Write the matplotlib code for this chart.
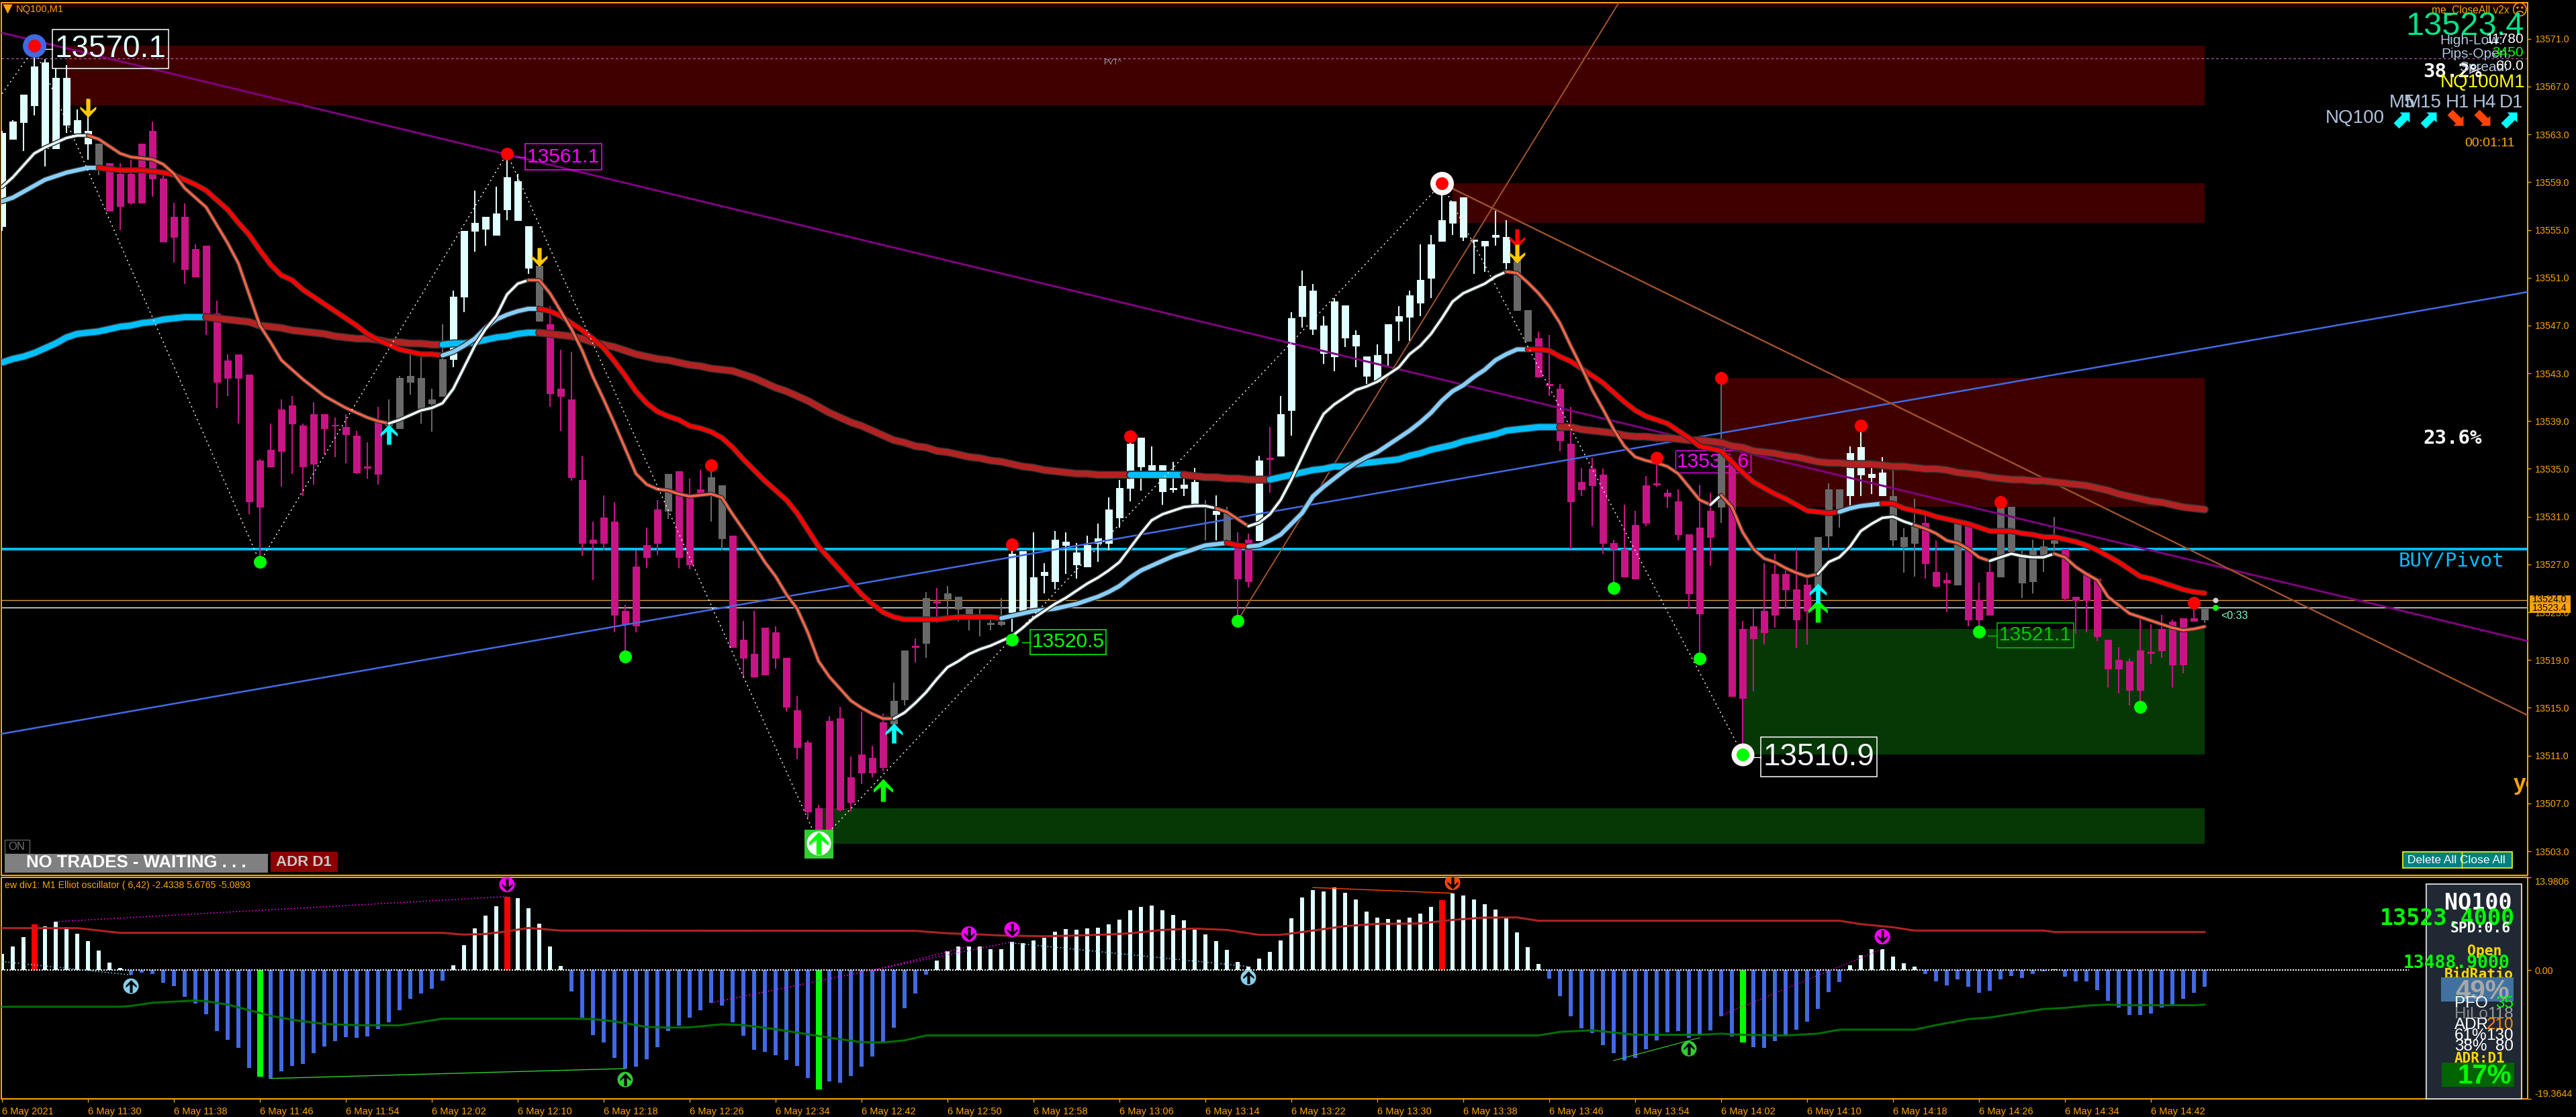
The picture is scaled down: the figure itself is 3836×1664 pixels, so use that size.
import numpy as np
import matplotlib
matplotlib.use("Agg")
import matplotlib.pyplot as plt
from matplotlib.patches import Rectangle
from matplotlib.markers import MarkerStyle
import matplotlib.patheffects as pe

W, H = 3836, 1664
BASE = 13500.0
plt.rcParams['font.family'] = ['Liberation Sans', 'DejaVu Sans']

# ---------- candles: points above BASE ----------
highs = [63.3,64.2,66.3,70.4,69.3,68.5,68.8,65.1,66.0,62.2,
60.6,60.6,60.9,62.2,64.1,59.9,57.3,57.2,53.8,53.7,
49.1,44.6,44.6,42.9,35.8,38.8,40.8,41.1,38.8,40.6,
39.6,39.3,39.6,38.2,37.2,40.2,40.8,42.8,44.6,44.5,
41.7,47.1,49.9,54.9,58.3,56.1,58.6,61.4,59.7,55.3,
52.0,48.6,45.0,44.8,36.1,30.6,32.8,32.2,23.6,28.2,
30.1,32.4,34.6,34.8,34.2,34.9,35.3,33.6,29.4,22.3,
23.1,21.7,21.8,19.2,16.0,12.3,6.9,14.3,15.1,10.9,
14.7,11.8,14.5,17.1,19.8,20.8,24.7,25.0,25.2,24.3,
23.3,23.3,22.8,24.2,28.7,28.1,29.7,27.1,29.8,29.7,
28.8,29.4,30.4,32.6,34.1,37.8,37.6,36.9,35.3,35.6,
34.2,35.1,32.4,32.8,31.8,29.7,29.6,36.1,38.5,41.1,
48.1,51.6,50.5,47.8,49.3,48.7,46.6,44.4,45.4,47.1,
48.6,49.9,53.8,54.6,58.8,57.4,57.7,54.2,54.1,56.6,
55.8,52.7,48.3,46.5,46.2,42.1,40.2,35.1,35.9,35.0,
29.1,32.0,31.5,34.4,35.5,33.3,33.3,29.5,33.7,33.0,
42.4,36.0,22.3,23.3,27.1,27.9,26.7,28.3,25.8,29.3,
33.8,33.3,36.9,38.5,35.1,36.0,35.0,30.0,32.5,31.2,
29.0,26.3,30.4,30.2,25.5,27.2,32.2,31.8,28.3,29.1,
29.0,31.0,28.3,24.3,26.3,25.8,20.7,20.1,19.1,22.8,
22.0,22.8,22.4,22.5,23.5,23.3]
body_high = [63.1,64.1,66.3,68.7,69.0,67.7,67.7,64.2,63.3,62.2,
60.6,59.7,59.7,62.2,63.3,59.3,56.1,56.1,53.4,53.7,
48.0,44.1,44.6,42.9,35.7,36.6,40.0,40.3,38.6,39.6,
39.6,38.7,38.5,37.8,35.2,39.0,38.8,42.6,42.8,42.6,
40.8,44.2,49.4,54.9,55.6,56.1,56.4,59.4,59.1,55.3,
52.0,47.1,41.7,40.8,34.1,29.1,30.9,30.6,23.1,26.8,
28.6,31.6,34.6,34.8,32.6,33.3,34.3,33.6,29.4,20.7,
19.5,21.7,21.3,19.2,14.8,12.1,6.6,13.9,14.1,9.2,
11.1,10.8,13.8,15.6,19.8,20.2,24.2,23.9,24.6,24.3,
23.3,22.8,22.1,22.2,27.9,28.1,25.9,26.4,29.1,28.9,
28.0,28.6,29.2,31.6,33.4,37.1,37.6,35.3,35.3,33.4,
33.7,33.9,31.9,31.5,31.4,28.7,29.1,35.7,35.9,39.6,
47.6,50.3,49.9,47.0,49.0,48.7,46.2,44.4,44.5,47.1,
47.8,49.5,50.8,53.8,55.8,57.4,57.7,54.2,54.1,54.6,
54.4,52.5,48.3,45.9,42.1,41.7,37.1,33.9,35.0,34.5,
28.8,28.3,30.3,33.6,33.8,33.0,32.3,29.5,30.1,31.5,
36.7,35.5,21.6,21.8,23.1,26.2,26.2,24.9,25.3,29.3,
33.3,33.3,36.3,36.8,34.6,34.7,32.7,29.3,30.2,30.5,
26.4,25.7,30.4,30.2,24.0,26.4,31.8,31.8,27.9,28.2,
28.5,29.0,28.3,24.3,26.3,25.8,20.7,19.0,18.9,19.8,
19.7,21.6,22.2,22.5,22.5,23.3]
body_low = [55.3,62.6,64.0,65.4,61.8,61.8,63.8,63.1,62.2,60.4,
56.6,57.0,57.3,57.3,59.3,54.0,54.4,51.7,51.1,48.0,
42.3,42.6,42.6,32.3,31.8,35.2,36.5,38.8,35.2,35.4,
38.4,38.6,37.9,34.7,35.1,34.6,38.6,38.4,42.3,40.1,
40.5,41.1,44.2,49.4,54.9,55.1,54.6,56.7,55.8,51.8,
47.4,41.3,41.1,34.3,28.8,28.8,28.8,22.8,22.0,21.9,
27.6,28.8,31.5,27.6,27.0,32.9,32.9,29.2,20.1,19.2,
17.6,17.8,19.2,15.1,11.7,6.3,4.2,4.7,6.5,7.1,
9.6,9.6,10.0,13.7,15.7,20.1,20.4,23.8,24.1,23.3,
22.8,22.5,22.0,22.0,23.0,23.1,23.2,26.1,25.6,28.6,
27.0,26.8,28.8,28.8,30.9,33.4,35.2,34.7,33.1,33.3,
33.4,32.1,31.8,31.2,29.0,25.8,25.6,29.0,35.8,36.1,
39.9,47.8,46.7,44.7,44.4,46.0,45.3,42.8,42.3,44.7,
47.4,47.7,48.9,51.0,54.1,55.6,54.4,54.1,53.7,54.4,
52.3,48.3,45.7,42.7,42.0,37.4,32.3,33.3,33.6,28.8,
28.3,26.0,25.8,30.5,33.7,32.7,29.5,24.6,22.9,29.3,
31.8,16.0,15.8,20.8,21.3,22.8,24.9,22.4,23.1,25.2,
29.4,31.6,32.8,34.5,34.3,32.8,29.1,28.5,28.8,27.1,
25.2,25.5,25.3,22.4,22.4,22.8,26.0,28.1,25.5,25.6,
27.8,28.8,24.2,24.0,24.0,21.0,18.3,18.3,16.5,16.5,
19.6,19.8,18.6,18.6,22.3,22.4]
lows = [54.9,62.6,61.6,64.6,60.3,61.8,63.1,62.7,60.9,59.6,
56.6,55.0,57.1,57.3,57.8,54.0,52.3,50.5,51.1,46.2,
40.1,41.1,38.8,31.2,27.2,35.2,33.5,34.6,32.7,33.7,
36.2,36.0,35.5,34.6,34.2,33.7,38.6,38.4,41.2,38.8,
38.1,41.1,43.5,48.1,53.2,53.7,54.6,55.8,55.8,51.3,
47.4,40.2,38.2,34.0,27.7,25.7,28.2,21.3,19.3,21.3,
26.7,27.8,30.8,26.7,26.6,32.9,30.6,28.2,20.1,17.5,
17.6,17.8,18.3,14.7,10.7,5.8,3.5,4.7,6.3,6.3,
8.6,9.2,9.7,13.3,15.2,18.8,19.2,22.1,22.5,22.2,
21.5,21.0,21.5,21.8,21.4,23.1,23.2,24.6,24.9,26.2,
25.8,26.8,27.2,28.2,30.1,32.3,33.2,34.7,32.0,33.0,
32.7,32.1,29.0,29.0,29.0,22.4,25.1,29.0,33.0,36.1,
37.8,46.8,46.2,43.8,43.2,45.2,43.5,42.1,42.3,43.5,
45.7,45.7,47.8,49.3,54.1,54.6,54.1,51.3,51.5,53.7,
51.7,48.3,45.7,42.6,41.1,36.5,28.3,32.7,30.2,27.9,
25.4,26.0,25.8,30.2,33.5,31.7,29.0,23.3,18.9,26.9,
30.5,15.9,11.0,16.4,20.3,21.7,23.3,20.0,20.3,24.8,
28.2,30.1,31.8,32.7,32.9,32.7,28.5,26.3,26.0,25.8,
25.1,23.0,25.3,21.8,21.4,22.8,26.0,28.1,24.2,24.6,
26.4,28.1,23.9,21.2,21.3,20.6,16.7,16.2,15.2,15.1,
18.7,19.2,16.7,17.9,22.2,22.1]
state_runs = [('w',9),('g',1),('m',26),('g',6),('w',8),('g',1),('m',11),('g',1),('m',3),('g',2),('m',15),
('g',2),('m',1),('g',1),('m',1),('g',6),('w',18),('g',1),('w',1),('g',1),('m',2),('w',1),('m',1),('w',22),
('g',2),('m',17),('g',1),('m',8),('g',3),('w',4),('g',3),('m',3),('g',1),('m',3),('g',6),('m',13),('g',1)]

# ---------- moving averages ----------
ma_fast = [58.6,59.4,60.4,61.4,61.9,62.3,62.7,62.9,62.9,62.6,62.0,61.4,61.1,61.0,60.9,60.5,59.7,58.5,57.7,56.9,
55.4,53.9,52.2,49.6,47.0,45.6,44.1,43.3,42.5,41.8,41.1,40.6,40.1,39.7,39.3,39.0,
38.8,39.1,39.5,39.9,40.1,40.5,41.7,43.5,45.3,46.7,47.8,49.6,50.5,50.8,50.8,49.7,48.2,46.7,44.9,42.7,40.8,38.8,36.7,34.6,
33.7,33.3,33.2,32.9,32.7,32.8,32.9,32.6,31.2,29.9,28.6,27.2,26.0,24.5,23.3,21.3,18.9,17.6,16.6,15.6,
15.0,14.5,14.1,14.1,14.6,15.4,16.3,17.4,18.4,18.9,19.5,19.9,20.2,20.6,21.0,21.7,22.5,23.1,23.7,24.2,
24.8,25.4,25.9,26.5,27.2,28.4,29.6,30.7,31.2,31.5,31.8,31.9,31.9,31.7,31.4,30.8,30.2,30.5,31.2,32.4,
34.1,36.0,37.9,39.6,40.4,41.0,41.6,41.9,42.3,42.9,43.5,44.6,45.3,46.3,47.6,49.0,49.7,50.1,50.5,51.1,
51.5,51.4,50.6,49.7,48.6,47.2,45.3,43.5,41.6,40.0,38.3,36.9,36.0,35.7,35.5,35.2,34.6,33.5,32.4,32.0,
32.8,31.8,29.7,28.3,27.5,27.2,26.7,26.3,26.0,26.2,27.2,27.6,28.5,29.8,30.4,30.9,31.0,30.6,30.3,30.0,
29.6,29.0,28.8,28.3,27.6,27.3,27.6,27.9,27.7,27.6,27.6,27.9,27.6,26.8,26.2,25.7,24.3,23.6,22.9,22.6,
22.3,22.0,21.7,21.5,21.6,21.8]
ma_mid = [57.4,57.7,58.2,58.7,59.2,59.5,59.8,60.0,60.2,60.2,60.1,60.0,60.0,60.0,59.9,59.8,59.6,59.2,58.8,58.3,
57.5,56.7,55.6,54.6,53.3,52.1,51.2,50.8,50.0,49.4,48.8,48.2,47.6,47.0,46.3,45.8,45.4,45.0,44.8,44.6,
44.6,44.5,44.8,45.3,45.9,46.8,47.5,47.9,48.2,48.4,48.4,48.2,47.8,47.2,46.6,45.9,45.1,44.0,42.8,41.5,
40.5,39.8,39.4,39.1,38.6,38.4,38.1,37.6,36.8,35.8,34.9,34.0,33.2,32.4,31.3,29.9,28.5,27.5,26.5,25.5,
24.5,23.7,23.0,22.6,22.4,22.4,22.4,22.4,22.5,22.6,22.6,22.6,22.6,22.5,
22.7,22.9,23.1,23.2,23.3,23.5,23.7,24.0,24.3,24.7,25.2,25.9,26.5,26.9,27.3,27.7,28.0,28.3,28.6,28.7,28.8,28.6,28.5,28.6,29.0,29.5,
30.4,31.3,32.7,33.5,34.2,34.9,35.5,36.0,36.4,37.0,37.6,38.2,38.9,39.7,40.7,41.5,42.0,42.7,43.3,44.1,
44.6,45.0,45.0,45.0,44.9,44.4,44.0,43.4,42.8,42.2,41.4,40.6,39.9,39.4,39.1,38.8,38.2,37.6,36.9,36.7,
36.5,35.6,34.7,33.9,33.4,32.9,32.5,32.0,31.5,31.4,31.3,31.4,31.7,31.9,32.0,32.1,32.1,31.7,31.5,31.3,
31.0,30.8,30.6,30.4,30.1,29.8,29.8,29.8,29.6,29.5,29.3,29.3,29.1,28.9,28.6,28.2,27.7,27.2,26.6,26.0,
25.8,25.5,25.2,24.9,24.7,24.6]
ma_slow = [43.9,44.2,44.4,44.7,45.1,45.5,46.0,46.3,46.4,46.5,46.7,46.9,47.0,47.2,47.3,47.5,47.6,47.7,47.7,47.7,
47.6,47.5,47.4,47.3,47.0,46.9,46.8,46.6,46.5,46.4,46.3,46.1,46.0,45.9,45.9,45.8,45.6,45.6,45.5,45.5,
45.4,45.4,45.5,45.5,45.6,45.8,46.0,46.1,46.3,46.4,46.4,46.3,46.2,46.1,45.9,45.6,45.4,45.2,44.9,44.6,
44.4,44.2,44.1,43.9,43.7,43.6,43.4,43.3,43.2,42.9,42.6,42.2,41.8,41.5,41.1,40.7,40.2,39.7,39.3,38.9,
38.6,38.2,37.8,37.4,37.2,36.9,36.8,36.5,36.4,36.2,36.0,35.9,35.7,35.6,35.4,35.2,35.1,34.9,34.8,34.7,
34.6,34.6,34.5,34.5,34.5,34.5,34.5,34.5,34.5,34.5,34.5,34.4,34.3,34.3,34.2,34.2,34.1,34.1,34.1,34.3,
34.5,34.7,34.9,35.0,35.2,35.2,35.4,35.5,35.6,35.7,35.8,36.1,36.3,36.6,36.8,37.0,37.3,37.5,37.7,37.9,
38.2,38.3,38.4,38.5,38.5,38.5,38.5,38.3,38.2,38.1,38.0,37.8,37.7,37.7,37.6,37.6,37.5,37.4,37.4,37.3,
37.2,36.9,36.8,36.5,36.4,36.3,36.1,36.0,35.8,35.6,35.5,35.5,35.4,35.4,35.4,35.3,35.2,35.2,35.1,35.0,
35.0,34.9,34.7,34.6,34.5,34.3,34.2,34.1,34.1,34.0,34.0,33.9,33.8,33.7,33.6,33.4,33.2,32.9,32.7,32.5,
32.3,32.2,32.0,31.8,31.7,31.6]
fast_breaks = [8,36,49,83,113,116,140,159,160,169,178,185,191]     # starts white
mid_breaks = [9,41,50,93,114,116,142,171,175]                       # starts light blue
slow_breaks = [19,41,50,105,110,118,145]                            # starts sky blue

# ---------- zones, levels, trend lines ----------
zone_start = [6,135,160,162,76]
zone_end = [205,205,205,205,205]
zone_top = [70.4,58.9,42.6,21.6,6.6]
zone_bottom = [65.4,55.6,31.8,11.1,3.6]
zone_kind = ['r','r','r','g','g']
pivot_level = 28.3
open_level = 24.0
last_price = 23.4
pvt_level = 69.35
purple_x = [0,235]; purple_y = [71.5,20.6]
blue_x = [-0.19,235]; blue_y = [12.8,49.8]
sienna_up_x = [115,150.6]; sienna_up_y = [22.3,74.2]
sienna_dn_x = [134,235]; sienna_dn_y = [58.9,14.4]
zig_x = [0,3,24,47,76,134,162]
zig_y = [66.4,70.2,27.2,61.4,3.7,58.9,11.1]
red_dot_x = [3,47,66,94,105,134,154,160,173,186,204]
red_dot_y = [70.4,61.4,35.3,28.7,37.7,58.9,35.9,42.6,38.6,32.2,23.8]
green_dot_x = [24,58,94,115,150,158,162,184,199]
green_dot_y = [27.2,19.3,20.7,22.3,25.0,19.1,11.1,21.4,15.1]
gold_dn_x = [8,50,141]; gold_dn_y = [65.2,52.7,53.0]
red_dn_x = [141]; red_dn_y = [54.3]
cyan_up_x = [36,83,169]; cyan_up_y = [37.9,12.9,24.6]
green_up_x = [82,169,76]; green_up_y = [8.1,23.1,3.7]

# ---------- oscillator ----------
osc = [2.46,3.57,4.98,6.9,6.6,7.27,6.5,5.49,4.34,2.96,1.14,0.34,-0.74,-0.37,-0.57,-1.89,-2.39,-4.0,-5.02,-6.63,
-9.16,-10.47,-11.68,-14.71,-16.0,-16.3,-15.22,-14.41,-14.11,-12.49,-11.48,-10.67,-10.07,-10.17,-9.97,-8.86,-7.85,-6.03,-4.31,-3.5,
-2.79,-1.58,0.74,3.77,6.3,8.22,9.63,11.04,10.84,9.33,7.0,3.57,0.64,-3.2,-7.14,-9.76,-10.88,-13.2,-14.81,-14.51,
-13.4,-11.58,-9.16,-8.4,-7.14,-6.03,-4.92,-5.32,-7.85,-9.87,-11.99,-12.29,-12.79,-13.5,-14.41,-16.23,-17.95,-16.73,-16.94,-15.93,
-14.5,-13.0,-10.74,-8.72,-5.79,-3.5,-0.67,1.45,2.86,3.57,3.57,3.57,3.16,3.16,4.28,4.07,4.48,4.88,5.79,6.2,
6.09,6.3,6.4,6.9,7.61,9.02,9.53,9.73,9.02,8.32,7.51,6.09,5.39,4.38,3.06,1.25,0.54,1.75,2.76,4.48,
7.81,10.94,12.05,11.85,12.46,11.65,10.64,8.82,7.91,7.71,7.61,7.91,8.52,9.53,10.54,11.55,11.25,10.64,9.93,9.12,
7.81,5.69,3.47,0.94,-1.28,-3.91,-6.94,-8.75,-9.46,-11.28,-12.49,-13.6,-13.2,-11.92,-10.57,-9.36,-9.16,-10.17,-9.66,-9.06,
-6.94,-9.97,-10.88,-11.58,-11.68,-10.67,-9.76,-8.96,-7.74,-5.82,-3.3,-1.78,0.74,2.26,3.16,3.16,2.05,1.01,0.54,-0.57,
-1.68,-2.29,-1.38,-2.49,-3.4,-3.1,-1.38,-0.88,-1.18,-0.57,-0.17,0.13,-0.98,-1.68,-1.68,-3.0,-4.61,-5.62,-6.73,-6.73,
-6.53,-5.62,-5.22,-4.31,-3.4,-2.49]
osc_red = [3,47,134]
osc_lime = [24,76,162]
upper_x = [0,7,8,10,11,41,43,45,47,49,50,52,85,88,91,93,97,100,103,105,108,111,114,117,119,122,125,128,132,135,138,141,143,171,173,176,178,190,191,205]
upper_y = [6.3,6.3,6.13,5.76,5.59,5.59,5.32,5.42,5.82,6.33,6.2,5.93,5.89,5.52,5.35,5.19,5.08,5.19,5.35,5.52,6.03,6.23,6.03,5.29,5.29,5.93,6.6,6.94,7.0,7.54,7.88,7.91,7.41,7.41,6.9,6.43,5.93,5.93,5.72,5.72]
lower_x = [0,11,12,14,16,18,19,21,23,25,27,30,33,37,39,41,53,55,57,60,62,64,67,69,72,75,78,80,82,84,86,143,145,148,150,152,158,160,162,166,169,171,178,180,183,185,188,190,192,194,196,198,204,205]
lower_y = [-5.52,-5.52,-5.39,-4.92,-4.75,-4.58,-4.68,-5.19,-6.03,-6.87,-7.47,-8.11,-8.28,-8.32,-7.81,-7.31,-7.31,-7.37,-7.71,-8.55,-8.65,-8.62,-8.15,-8.28,-8.89,-9.66,-10.4,-10.84,-10.88,-10.57,-9.83,-9.83,-9.29,-9.06,-9.39,-9.73,-9.73,-9.56,-9.73,-9.83,-9.56,-8.96,-8.96,-8.28,-7.37,-7.14,-6.36,-5.86,-5.69,-5.35,-5.19,-5.29,-5.29,-5.19]
drop_x = [47,12,58,90,94,116,135,157,175]
drop_y = [12.86,-2.42,-16.46,5.42,6.09,-1.14,13.16,-11.82,5.02]
drop_c = ['#FF00FF','#87CEEB','#32CD32','#FF00FF','#FF00FF','#87CEEB','#FF4500','#32CD32','#FF00FF']
drop_down = [1,0,0,1,1,0,1,0,1]
time_labels = ['6 May 2021'] + ['6 May %d:%02d' % (h, m) for h, m in
    [(11,30),(11,38),(11,46),(11,54),(12,2),(12,10),(12,18),(12,26),(12,34),(12,42),(12,50),(12,58),
     (13,6),(13,14),(13,22),(13,30),(13,38),(13,46),(13,54),(14,2),(14,10),(14,18),(14,26),(14,34),(14,42)]]
price_ticks = list(range(13503, 13572, 4))

states = ''.join(c * n for c, n in state_runs)
for name, arr in [('highs',highs),('body_high',body_high),('body_low',body_low),('lows',lows),('fast',ma_fast),('mid',ma_mid),('slow',ma_slow),('osc',osc),('states',states)]:
    assert len(arr) == 206, (name, len(arr))

idx = np.arange(206)
h_ = BASE + np.array(highs); l_ = BASE + np.array(lows)
bh = BASE + np.array(body_high); bl = BASE + np.array(body_low)
COL = {'w': '#E0FFFF', 'm': '#C71585', 'g': '#696969'}
cols = [COL[s] for s in states]

PX = 0.72
ORANGE = '#FFA500'
fig = plt.figure(figsize=(W/100, H/100), dpi=100, facecolor='black')

def rect(x0, y0, x1, y1):
    return [x0/W, 1 - y1/H, (x1-x0)/W, (y1-y0)/H]

ax = fig.add_axes(rect(2, 4, 3764, 1304), facecolor='black')
ax.set_xlim(-0.0625, 235.06)
ax.set_ylim(13500.98, 13574.02)
osc_ax = fig.add_axes(rect(2, 1306.5, 3764, 1637), facecolor='black')
osc_ax.set_xlim(-0.0625, 235.06)
osc_ax.set_ylim(-19.3644, 13.9806)

for a in (ax, osc_ax):
    for s in a.spines.values():
        s.set_color(ORANGE); s.set_linewidth(2*PX)
    a.spines['bottom'].set_zorder(20)

# main ticks
ax.yaxis.tick_right()
ax.set_yticks(price_ticks)
ax.set_yticklabels(['%.1f' % p for p in price_ticks], color=ORANGE, fontsize=10.3)
ax.tick_params(axis='y', length=5*PX, width=1.3*PX, color=ORANGE, pad=4)
ax.set_xticks([])
osc_ax.yaxis.tick_right()
osc_ax.set_yticks([13.9806, 0, -19.3644])
yl = osc_ax.set_yticklabels(['13.9806', '0.00', '-19.3644'], color=ORANGE, fontsize=10.3)
yl[0].set_va('top'); yl[2].set_va('bottom')
for lab, dy in ((yl[0], -3), (yl[2], 3)):
    lab.set_y(lab.get_position()[1])
osc_ax.tick_params(axis='y', length=5*PX, width=1.3*PX, color=ORANGE, pad=4)
osc_ax.set_xticks(np.arange(0, 206, 8))
xl = osc_ax.set_xticklabels(time_labels, color=ORANGE, fontsize=10.5, ha='left')
osc_ax.tick_params(axis='x', length=5*PX, width=1.3*PX, color=ORANGE, pad=5)

# zones
for a, b, t, u, k in zip(zone_start, zone_end, zone_top, zone_bottom, zone_kind):
    ax.add_patch(Rectangle((a, BASE+u), b-a, t-u, facecolor='#400000' if k == 'r' else '#063806', edgecolor='none', zorder=1))
ax.add_patch(Rectangle((-0.5, 13573.65), 237, 0.4, facecolor='#280000', edgecolor='none', zorder=1))

# levels
ax.axhline(BASE+pivot_level, color='#00BFFF', lw=4*PX, zorder=2)
ax.axhline(BASE+open_level, color='#DAA040', lw=1.4*PX, zorder=2)
ax.axhline(BASE+last_price, color='white', lw=1.4*PX, zorder=2)
ax.axhline(BASE+pvt_level, color='#C060C0', lw=1.2*PX, ls=(0, (3, 3)), zorder=2)

# label hidden behind the candles
ax.text(159.25, BASE+35.6, '13535.6', color='#FF00FF', fontsize=21.5, ha='center', va='center', zorder=2.5,
        bbox=dict(fc='none', ec='#FF00FF', boxstyle='square,pad=0.08', lw=1.0))

# candles
ax.vlines(idx, l_, h_, colors=cols, lw=2*PX, zorder=3, antialiased=False)
ax.bar(idx, bh-bl, bottom=bl, width=10/16, color=cols, edgecolor=cols, linewidth=0.72, zorder=3.1, antialiased=False)

# trend lines
ax.plot(purple_x, BASE+np.array(purple_y), color='#800080', lw=3*PX, zorder=4)
ax.plot(blue_x, BASE+np.array(blue_y), color='#4169E1', lw=2.6*PX, zorder=4)
ax.plot(sienna_up_x, BASE+np.array(sienna_up_y), color='#A0522D', lw=2*PX, zorder=4)
ax.plot(sienna_dn_x, BASE+np.array(sienna_dn_y), color='#A0522D', lw=2.4*PX, zorder=4)

def ma_line(vals, breaks, c0, c1, lw, halo, z):
    edges = [0] + breaks + [205]
    v = BASE + np.array(vals)
    for n in range(len(edges)-1):
        a, b = edges[n], edges[n+1]
        ax.plot(idx[a:b+1], v[a:b+1], color=(c0 if n % 2 == 0 else c1), lw=lw*PX, zorder=z, solid_capstyle='round',
                solid_joinstyle='round', path_effects=[pe.Stroke(linewidth=(lw+halo)*PX, foreground='#303030'), pe.Normal()])

ma_line(ma_slow, slow_breaks, '#00BFFF', '#B22222', 9, 3, 5)
ma_line(ma_mid, mid_breaks, '#87CEFA', '#FF0000', 6, 3, 5.1)
ma_line(ma_fast, fast_breaks, '#F0FFFF', '#FF6347', 3.6, 3, 5.2)

# zigzag
ax.plot(zig_x, BASE+np.array(zig_y), color='white', lw=1.4*PX, ls=(0, (1.5, 3.5)), zorder=5.5)

# markers
UP = np.array([(0,1),(0.85,0.1),(0.85,-0.2),(0.22,0.3),(0.22,-1),(-0.22,-1),(-0.22,0.3),(-0.85,-0.2),(-0.85,0.1),(0,1)])
DN = UP * np.array([1, -1])
def dots(x, y, d, c, z=6):
    ax.scatter(x, BASE+np.array(y), s=(d*PX)**2, c=c, linewidths=0, zorder=z)
def arrows(x, y, verts, hgt, c, z=6.5):
    ax.scatter(x, BASE+np.array(y), s=(hgt*PX)**2, c=c, marker=MarkerStyle(verts), linewidths=0, zorder=z)

ax.add_patch(Rectangle((74.7, BASE+2.4), 2.7, 2.4, facecolor='#32CD32', edgecolor='none', zorder=5.8))
dots([3], [70.4], 35, '#4169E1', 5.9)
dots([134], [58.9], 35, '#FFF5F5', 5.9)
dots([162], [11.1], 34, '#FFF5F5', 5.9)
dots([76], [3.7], 36, 'white', 5.9)
dots(red_dot_x, red_dot_y, 19, '#FF0000')
dots(green_dot_x, green_dot_y, 19, '#00FF00')
arrows(gold_dn_x, gold_dn_y, DN, 28, '#FFC800')
arrows(red_dn_x, red_dn_y, DN, 28, '#FF0000', 6.4)
arrows(cyan_up_x, cyan_up_y, UP, 30, '#00FFFF', 6.6)
arrows(green_up_x, green_up_y, UP, 34, '#00FF00', 6.5)
ax.text(233.7, BASE+8.6, 'yo', color=ORANGE, fontsize=24, fontweight='bold', va='center', clip_on=True, zorder=7)

# oscillator
oc = ['#E0FFFF' if v >= 0 else '#4169E1' for v in osc]
osc_ax.bar(idx, osc, width=6.6/16, color=oc, linewidth=0, zorder=2, antialiased=False)
osc_ax.bar(osc_red, [osc[i] for i in osc_red], width=9/16, color='#FF0000', linewidth=0, zorder=2.1, antialiased=False)
osc_ax.bar(osc_lime, [osc[i] for i in osc_lime], width=9/16, color='#00FF00', linewidth=0, zorder=2.1, antialiased=False)
osc_ax.plot(upper_x, upper_y, color='#B22222', lw=3*PX, zorder=3)
osc_ax.plot(lower_x, lower_y, color='#007000', lw=3*PX, zorder=3)
osc_ax.plot([-0.06, 224], [0, 0], color='white', lw=2*PX, ls=(0, (1, 1)), zorder=3)
dotted = (0, (1, 2))
osc_ax.plot([5, 47], [7.27, 11.04], color='#FF00FF', lw=1.6*PX, ls=dotted, zorder=4)
osc_ax.plot([0, 12], [1.28, -0.74], color='#87CEFA', lw=1.6*PX, ls=dotted, zorder=4)
osc_ax.plot([25, 58], [-16.3, -14.81], color='#32CD32', lw=1.4*PX, zorder=4)
osc_ax.plot([66, 94], [-4.92, 4.24], color='#FF00FF', lw=1.6*PX, ls=dotted, zorder=4)
osc_ax.plot([81, 90], [-0.1, 3.57], color='#FF00FF', lw=1.6*PX, ls=dotted, zorder=4)
osc_ax.plot([94, 116], [4.07, 0.54], color='#87CEFA', lw=1.6*PX, ls=dotted, zorder=4)
osc_ax.plot([122, 135], [12.4, 11.55], color='#FF4500', lw=1.4*PX, zorder=4)
osc_ax.plot([150, 158], [-13.6, -10.17], color='#32CD32', lw=1.2*PX, zorder=4)
osc_ax.plot([160, 175], [-6.8, 3.16], color='#FF00FF', lw=1.4*PX, ls=dotted, zorder=4)
osc_ax.scatter(drop_x, drop_y, s=(23*PX)**2, c=drop_c, linewidths=0, zorder=5)
for x, y, d in zip(drop_x, drop_y, drop_down):
    osc_ax.scatter([x], [y], s=(19*PX)**2, c='black', marker=MarkerStyle(DN if d else UP), linewidths=0, zorder=6)

# ---------- overlay in pixel space ----------
ov = fig.add_axes([0, 0, 1, 1], facecolor='none')
ov.set_xlim(0, W); ov.set_ylim(H, 0); ov.axis('off'); ov.set_zorder(10)
MONO = 'DejaVu Sans Mono'
def T(x, y, s, c='white', fs=11, ha='left', va='center', **k):
    return ov.text(x, y, s, color=c, fontsize=fs, ha=ha, va=va, **k)
def R(x0, y0, x1, y1, fc='none', ec='none', lw=0, z=1):
    ov.add_patch(Rectangle((x0, y0), x1-x0, y1-y0, facecolor=fc, edgecolor=ec, linewidth=lw, zorder=z))
def boxed(x0, y0, x1, y1, s, c, ec, fs, dash=None):
    R(x0, y0, x1, y1, ec=ec, lw=1.1)
    T((x0+x1)/2, (y0+y1)/2, s, c, fs, ha='center')
    if dash:
        ov.plot([dash, x0], [(y0+y1)/2]*2, color=ec, lw=1)

boxed(78, 44, 251, 102, '13570.1', '#E0FFFF', 'white', 33, 68)
boxed(782, 214, 896, 253, '13561.1', '#FF00FF', '#FF00FF', 21.5, 768)
boxed(1534, 938, 1647, 975, '13520.5', '#00FF00', '#00FF00', 21.5, 1522)
boxed(2974, 928, 3088, 965, '13521.1', '#00C800', '#00C800', 21.5, 2960)
boxed(2622, 1098, 2795, 1157, '13510.9', '#F8F8FF', 'white', 33, 2610)
T(1657, 93, 'PVT^', '#A0A0A0', 8, ha='center')
T(24, 14, 'NQ100,M1', ORANGE, 10.5)
ov.scatter([11], [13], s=(14*PX)**2, marker='v', c=ORANGE, linewidths=0)

# right text
T(3572, 836, 'BUY/Pivot', '#00BFFF', 21, family=MONO)
T(3608, 653, '23.6%', 'white', 21, family=MONO, fontweight='bold')
T(3608, 107, '38.2%', 'white', 21, family=MONO, fontweight='bold')
T(3307, 917, '<0:33', '#7FFFD4', 11.5)
ov.scatter([3299], [894], s=(8*PX)**2, c='#D0D0D0', linewidths=0)
ov.scatter([3299], [905], s=(9*PX)**2, c='#00FF00', linewidths=0)
R(3767, 887, 3828, 899, fc='#E89A10', z=3); T(3797, 893, '13524.0', 'black', 10.3, ha='center', zorder=4)
R(3767, 899, 3828, 913, fc=ORANGE, z=5); T(3797, 906, '13523.4', 'black', 10.3, ha='center', zorder=6)

T(3737, 15, 'me_CloseAll v2x', ORANGE, 11.2, ha='right')
T(3751, 16, '\u2639', ORANGE, 17, ha='center', family='DejaVu Sans')
T(3758, 40, '13523.4', '#00E68A', 35, ha='right')
T(3633, 61, 'High-Low:', '#B0C4DE', 15); T(3758, 59, '11780', 'white', 15, ha='right')
T(3635, 80, 'Pips-Open:', '#B0C4DE', 15); T(3758, 79, '3450', '#00FF00', 15, ha='right')
T(3662, 100, 'Spread:', '#B0C4DE', 15); T(3758, 98, '60.0', 'white', 15, ha='right')
T(3760, 123, 'NQ100M1', '#FFFF00', 20, ha='right')
for x, s in [(3558, 'M5'), (3582, 'M15'), (3642, 'H1'), (3682, 'H4'), (3722, 'D1')]:
    T(x, 153, s, '#B0C4DE', 20)
T(3463, 176, 'NQ100', '#B0C4DE', 20)
SW = np.array([(0,1),(0.75,0.25),(0.4,0.25),(0.4,-1),(-0.4,-1),(-0.4,0.25),(-0.75,0.25),(0,1)])
def rot(v, deg):
    a = np.deg2rad(deg); m = np.array([[np.cos(a), -np.sin(a)], [np.sin(a), np.cos(a)]])
    return v @ m.T
for x, c, d in [(3578,'#00FFFF',-45),(3618,'#00FFFF',-45),(3658,'#FF4500',-135),(3698,'#FF4500',-135),(3738,'#00FFFF',-45)]:
    ov.scatter([x], [177], s=(28*PX)**2, c=c, marker=MarkerStyle(rot(SW, d)), linewidths=0)
T(3745, 214, '00:01:11', ORANGE, 14, ha='right')

# bottom-left buttons
R(7, 1251, 44, 1272, ec='#606060', lw=1); T(25, 1262, 'ON', '#707070', 12, ha='center')
R(7, 1272, 399, 1300, fc='#808080'); T(203, 1285, 'NO TRADES - WAITING . . .', 'white', 18.5, ha='center', fontweight='bold', zorder=3)
R(403, 1269, 503, 1299, fc='#8B0000'); T(452, 1285, 'ADR D1', '#C8C8C8', 16, ha='center', fontweight='bold', zorder=3)
T(7, 1319, 'ew div1: M1 Elliot oscillator ( 6,42) -2.4338 5.6765 -5.0893', ORANGE, 10.2)

# delete / close buttons
R(3578, 1269, 3741, 1293, fc='#008080', ec='#FFFF00', lw=1.2, z=2)
ov.plot([3666, 3666], [1269, 1293], color='#FFFF00', lw=1, zorder=3)
T(3622, 1281, 'Delete All', 'white', 12.5, ha='center', zorder=4)
T(3697, 1281, 'Close All', 'white', 12.5, ha='center', zorder=4)

# information panel
R(3613, 1317, 3755, 1637, fc='#1F2833', ec='#F0F0F0', lw=1.2, z=2)
T(3741, 1345, 'NQ100', 'white', 24, ha='right', family=MONO, fontweight='bold', zorder=3)
T(3745, 1368, '13523.4000', '#00FF00', 24, ha='right', family=MONO, fontweight='bold', zorder=3)
T(3739, 1383, 'SPD:0.6', 'white', 15.4, ha='right', family=MONO, fontweight='bold', zorder=4)
T(3700, 1417, 'Open', '#FFD700', 15.4, ha='center', family=MONO, fontweight='bold', zorder=3)
T(3737, 1435, '13488.9000', '#00FF00', 19, ha='right', family=MONO, fontweight='bold', zorder=3)
T(3743, 1452, 'BidRatio', '#FFD700', 15.4, ha='right', family=MONO, fontweight='bold', zorder=3)
R(3635, 1456, 3743, 1492, fc='#41729F', z=4)
T(3737, 1477, '49%', '#A9A9A9', 29, ha='right', fontweight='bold', zorder=5)
rows = [('PFO','35','white','#00FF00',1495),('HiLo','118','#8C8C8C','#A0A0A0',1511),('ADR','210','white','#FF8C00',1527),
        ('61%','130','white','white',1543),('38%','80','white','white',1559)]
for a, b, c1, c2, y in rows:
    T(3655, y, a, c1, 17.5, zorder=6); T(3743, y, b, c2, 17.5, ha='right', zorder=6)
T(3693, 1577, 'ADR:D1', '#FFD700', 15, ha='center', family=MONO, fontweight='bold', zorder=3)
R(3636, 1583, 3744, 1619, fc='#006400', z=4)
T(3740, 1603, '17%', '#00FF00', 29, ha='right', fontweight='bold', zorder=5)

fig.savefig('out.png', dpi=100, facecolor='black')
